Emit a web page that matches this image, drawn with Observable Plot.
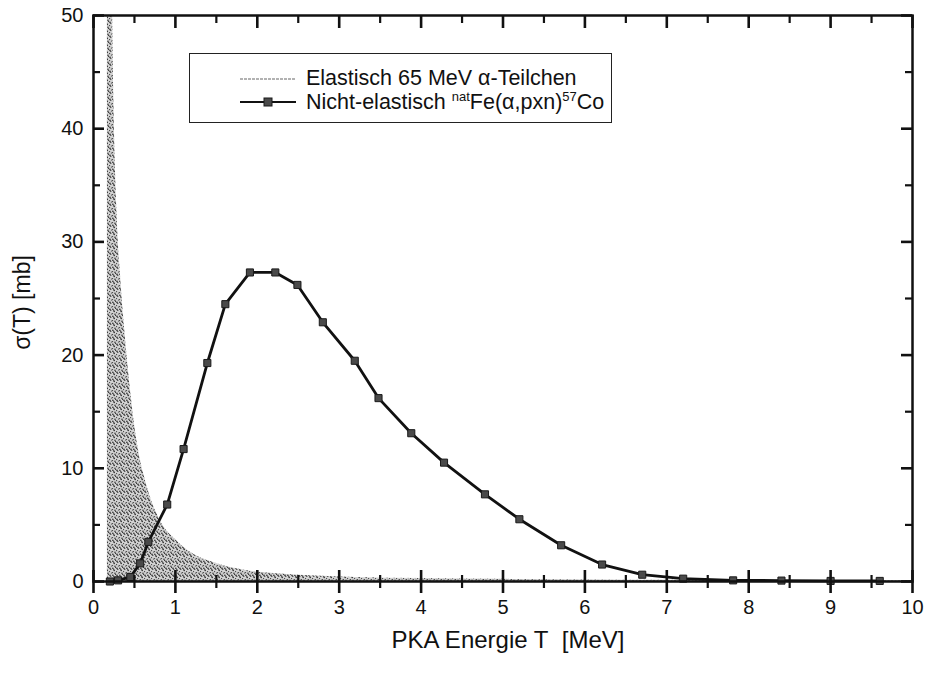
<!DOCTYPE html>
<html>
<head>
<meta charset="utf-8">
<script src="https://cdn.jsdelivr.net/npm/d3@7"></script>
<script src="https://cdn.jsdelivr.net/npm/@observablehq/plot@0.6"></script>
<style>
  html, body { margin: 0; padding: 0; background: #fff; }
  #wrap { position: relative; width: 926px; height: 673px; font-family: "Liberation Sans", Arial, Helvetica, sans-serif; }
  #legend { position: absolute; left: 189px; top: 53px; width: 423px; height: 70px; border: 1.5px solid #222; box-sizing: border-box; background: #fff; }
  #legend .txt { position: absolute; left: 116px; font-size: 21.5px; line-height: 21px; color: #111; white-space: nowrap; }
  #legend sup { font-size: 13px; line-height: 0; vertical-align: 0; position: relative; top: -8px; }
  #legend svg { position: absolute; left: 50px; }
</style>
</head>
<body>
<div id="wrap"></div>
<script>
// Nicht-elastisch natFe(α,pxn)57Co — PKA energy T [MeV] and σ(T) [mb]
const inelT     = [0.2, 0.3, 0.45, 0.57, 0.67, 0.9, 1.1, 1.39, 1.61, 1.91, 2.22, 2.49, 2.8, 3.19, 3.48, 3.88, 4.28, 4.78, 5.2, 5.71, 6.21, 6.7, 7.2, 7.81, 8.4, 9.0, 9.6];
const inelSigma = [0.0, 0.1, 0.4, 1.6, 3.5, 6.8, 11.7, 19.3, 24.5, 27.3, 27.3, 26.2, 22.9, 19.5, 16.2, 13.1, 10.5, 7.7, 5.5, 3.2, 1.5, 0.6, 0.25, 0.1, 0.08, 0.05, 0.05];

// Elastisch 65 MeV α-Teilchen
const elT     = [0.17, 0.2, 0.23, 0.25, 0.29, 0.33, 0.39, 0.45, 0.54, 0.65, 0.82, 1.0, 1.22, 1.5, 1.76, 2.2, 2.7, 3.2, 4.0, 5.0, 6.0, 7.0, 8.0, 9.0, 10.0];
const elSigma = [90, 70, 52, 42, 32, 27, 21.5, 17, 12, 8.5, 5.3, 3.7, 2.4, 1.6, 1.1, 0.7, 0.48, 0.36, 0.26, 0.19, 0.14, 0.11, 0.09, 0.07, 0.06];

const xTicks = [0, 1, 2, 3, 4, 5, 6, 7, 8, 9, 10];
const xMinor = [0.5, 1.5, 2.5, 3.5, 4.5, 5.5, 6.5, 7.5, 8.5, 9.5];
const yTicks = [0, 10, 20, 30, 40, 50];
const yMinor = [5, 15, 25, 35, 45];

const xLabel = "PKA Energie T\u00a0\u00a0[MeV]";
const yLabel = "σ(T) [mb]";

const inel = inelT.map((t, i) => ({t, s: inelSigma[i]}));
const el = elT.map((t, i) => ({t, s: elSigma[i]}));

const W = 926, H = 673, ML = 93, MR = 14, MT = 15, MB = 92;
const FW = W - ML - MR, FH = H - MT - MB;
const ink = "#111";

const chart = Plot.plot({
  width: W, height: H,
  marginLeft: ML, marginRight: MR, marginTop: MT, marginBottom: MB,
  style: {fontFamily: '"Liberation Sans", Arial, Helvetica, sans-serif', color: ink, background: "#fff"},
  x: {domain: [0, 10]},
  y: {domain: [0, 50]},
  marks: [
    Plot.areaY(el, {x: "t", y1: 0, y2: "s", fill: "url(#stip)", clip: true, curve: "monotone-x"}),
    Plot.lineY(el, {x: "t", y: 0.03, stroke: "#777", strokeWidth: 1, strokeDasharray: "2,1", clip: true}),
    Plot.lineY(inel, {x: "t", y: "s", stroke: ink, strokeWidth: 2.8}),
    Plot.dot(inel, {x: "t", y: "s", symbol: "square", r: 4, fill: "#4a4a4a", stroke: "#1a1a1a", strokeWidth: 1}),
    Plot.frame({stroke: ink, strokeWidth: 2.5}),
    // bottom ticks (crossing)
    Plot.ruleX(xTicks, {x: d => d, insetTop: FH - 11, insetBottom: -12, stroke: ink, strokeWidth: 2.6}),
    Plot.ruleX(xMinor, {x: d => d, insetTop: FH - 6, insetBottom: -7, stroke: ink, strokeWidth: 2.2}),
    // top ticks (inward)
    Plot.ruleX(xTicks, {x: d => d, insetBottom: FH - 13, stroke: ink, strokeWidth: 2.6}),
    Plot.ruleX(xMinor, {x: d => d, insetBottom: FH - 8, stroke: ink, strokeWidth: 2.2}),
    // left ticks (inward)
    Plot.ruleY(yTicks, {y: d => d, insetRight: FW - 11, stroke: ink, strokeWidth: 2.6}),
    Plot.ruleY(yMinor, {y: d => d, insetRight: FW - 7, stroke: ink, strokeWidth: 2.2}),
    // right ticks (inward)
    Plot.ruleY(yTicks, {y: d => d, insetLeft: FW - 11, stroke: ink, strokeWidth: 2.6}),
    Plot.ruleY(yMinor, {y: d => d, insetLeft: FW - 7, stroke: ink, strokeWidth: 2.2}),
    Plot.axisX({ticks: xTicks, tickSize: 0, tickPadding: 18, fontSize: 20, label: null, tickFormat: d => d}),
    Plot.axisY({ticks: yTicks, tickSize: 0, tickPadding: 10, fontSize: 20, label: null, tickFormat: d => d}),
    Plot.text([xLabel], {text: d => d, frameAnchor: "bottom", dx: 5, dy: 66, fontSize: 24, lineAnchor: "bottom", fill: ink}),
    Plot.text([yLabel], {text: d => d, frameAnchor: "left", textAnchor: "middle", dx: -71, dy: 4, rotate: -90, fontSize: 23, fill: ink})
  ]
});

// stipple pattern for the elastic area (fixed dot layout)
const ns = "http://www.w3.org/2000/svg";
const defs = document.createElementNS(ns, "defs");
const pat = document.createElementNS(ns, "pattern");
pat.setAttribute("id", "stip");
pat.setAttribute("width", "7");
pat.setAttribute("height", "7");
pat.setAttribute("patternUnits", "userSpaceOnUse");
const bg = document.createElementNS(ns, "rect");
bg.setAttribute("width", "7"); bg.setAttribute("height", "7"); bg.setAttribute("fill", "#d2d2d2");
pat.appendChild(bg);
[[0.8,1.2],[3.6,0.5],[5.8,2.4],[2.2,3.4],[4.6,4.6],[0.6,5.6],[3.0,6.2],[6.4,6.0],[1.6,2.2],[5.0,1.4]].forEach(([cx, cy], i) => {
  const c = document.createElementNS(ns, "circle");
  c.setAttribute("cx", cx); c.setAttribute("cy", cy);
  c.setAttribute("r", i % 3 === 0 ? 0.8 : 0.6);
  c.setAttribute("fill", "#333");
  pat.appendChild(c);
});
defs.appendChild(pat);
chart.insertBefore(defs, chart.firstChild);

const wrap = document.getElementById("wrap");
wrap.appendChild(chart);

// legend
const legend = document.createElement("div");
legend.id = "legend";
legend.innerHTML = `
  <svg width="60" height="10" style="top:20px"><line x1="0" y1="5" x2="56" y2="5" stroke="#666" stroke-width="1.2" stroke-dasharray="3,1"/></svg>
  <div class="txt" style="top:14px">Elastisch 65 MeV α-Teilchen</div>
  <svg width="60" height="12" style="top:42px"><line x1="0" y1="6" x2="56" y2="6" stroke="#111" stroke-width="2"/><rect x="24" y="2" width="8" height="8" fill="#4a4a4a" stroke="#1a1a1a" stroke-width="1"/></svg>
  <div class="txt" style="top:38px">Nicht-elastisch <sup>nat</sup>Fe(α,pxn)<sup>57</sup>Co</div>
`;
wrap.appendChild(legend);
</script>
</body>
</html>
